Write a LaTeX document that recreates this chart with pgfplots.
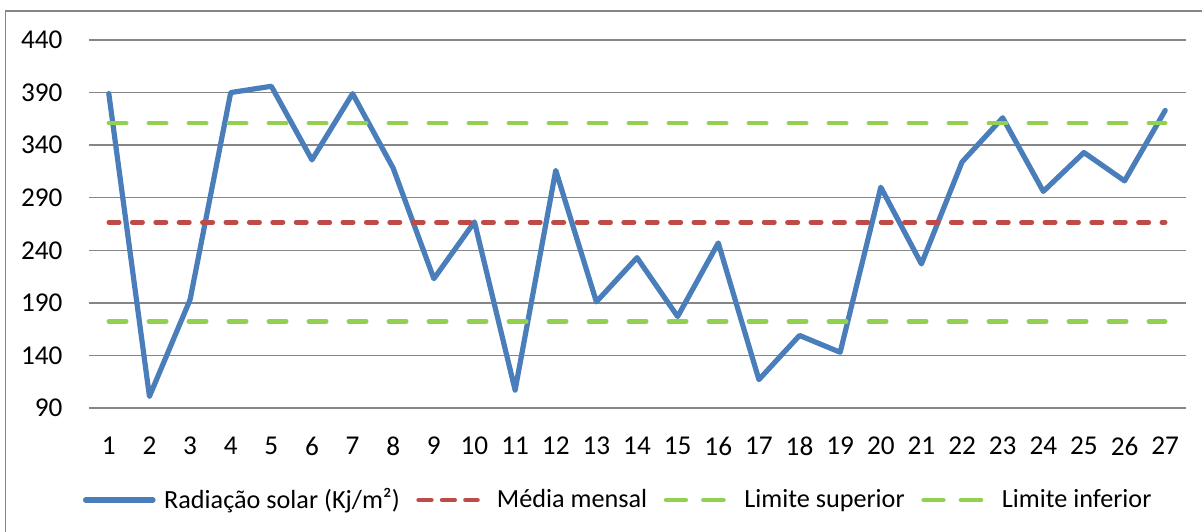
\documentclass[border=0pt]{standalone}
\usepackage{pgfplots}
\pgfplotsset{compat=1.18}
\usepackage{fontspec}
\setmainfont{Carlito}

\definecolor{radblue}{HTML}{4A7EBB}
\definecolor{medred}{HTML}{BE4B48}
\definecolor{limgreen}{HTML}{92D050}
\definecolor{gridgray}{HTML}{868686}

\newcommand{\chartfont}{\fontsize{13.1pt}{15pt}\selectfont}
\newcommand{\tickfont}{\fontsize{13.6pt}{16pt}\selectfont}

\begin{document}
\begin{tikzpicture}
\useasboundingbox (0,0) rectangle (601pt,265.5pt);
% chart frame
\draw[gridgray, line width=0.7pt] (2.85pt,-1pt) -- (2.85pt,260pt) -- (602pt,260pt);
\begin{axis}[
  at={(44.25pt,61.5pt)}, anchor=south west,
  scale only axis, width=548.5pt, height=184pt,
  xmin=0.5, xmax=27.5, ymin=90, ymax=440,
  xtick={1,...,27}, ytick={90,140,...,440},
  axis line style={draw=none},
  major tick length=0pt,
  ymajorgrids, grid style={gridgray, line width=0.65pt},
  /pgf/number format/assume math mode=true,
  ticklabel style={font=\tickfont, text=black},
  yticklabel style={anchor=east, inner sep=0pt, xshift=-12.8pt},
  xticklabel style={anchor=north, inner sep=0pt, yshift=-14.3pt},
  clip=false,
  legend columns=4,
  legend style={draw=none, fill=none, font=\chartfont,
    at={(rel axis cs:0,0)}, anchor=west, xshift=-2.75pt, yshift=-46pt,
    inner sep=0pt, outer sep=0pt,
    nodes={inner sep=0pt},
    /tikz/every odd column/.append style={column sep=7.5pt},
    /tikz/every even column/.append style={column sep=8.3pt}},
]
\addplot[radblue, line width=2.6pt, line join=round, line cap=round,
  legend image code/.code={
    \path (0pt,0pt) -- (30.5pt,0pt);
    \draw[overlay, radblue, line width=2.6pt, line cap=round] (1.3pt,0pt) -- (33.7pt,0pt);}]
  coordinates {
  (1,389) (2,101) (3,193) (4,390) (5,396) (6,326) (7,389) (8,318) (9,213)
  (10,267) (11,107) (12,316) (13,191) (14,233) (15,177) (16,247) (17,117)
  (18,159) (19,143) (20,300) (21,227) (22,324) (23,366) (24,296) (25,333)
  (26,306) (27,373)};
\addlegendentry{Radiação solar (Kj/m²)}
\addplot[medred, line width=2.3pt, line cap=round, dash pattern=on 5.2pt off 6.5pt,
  legend image code/.code={
    \path (0pt,0pt) -- (30.5pt,0pt);
    \draw[medred, line width=2.3pt, line cap=round, dash pattern=on 5.2pt off 6.5pt] (1.15pt,0pt) -- (29.4pt,0pt);}]
  coordinates {(1,266.6) (27,266.6)};
\addlegendentry{Média mensal}
\addplot[limgreen, line width=2.3pt, line cap=round, dash pattern=on 8.7pt off 11.3pt,
  legend image code/.code={
    \path (0pt,0pt) -- (30.5pt,0pt);
    \draw[limgreen, line width=2.3pt, line cap=round, dash pattern=on 8.7pt off 8.8pt] (1.15pt,0pt) -- (29.4pt,0pt);}]
  coordinates {(1,360.9) (27,360.9)};
\addlegendentry{Limite superior}
\addplot[limgreen, line width=2.3pt, line cap=round, dash pattern=on 8.7pt off 11.3pt,
  legend image code/.code={
    \path (0pt,0pt) -- (30.5pt,0pt);
    \draw[limgreen, line width=2.3pt, line cap=round, dash pattern=on 8.7pt off 8.8pt] (1.15pt,0pt) -- (29.4pt,0pt);}]
  coordinates {(1,172.3) (27,172.3)};
\addlegendentry{Limite inferior}
\end{axis}
\end{tikzpicture}
\end{document}
